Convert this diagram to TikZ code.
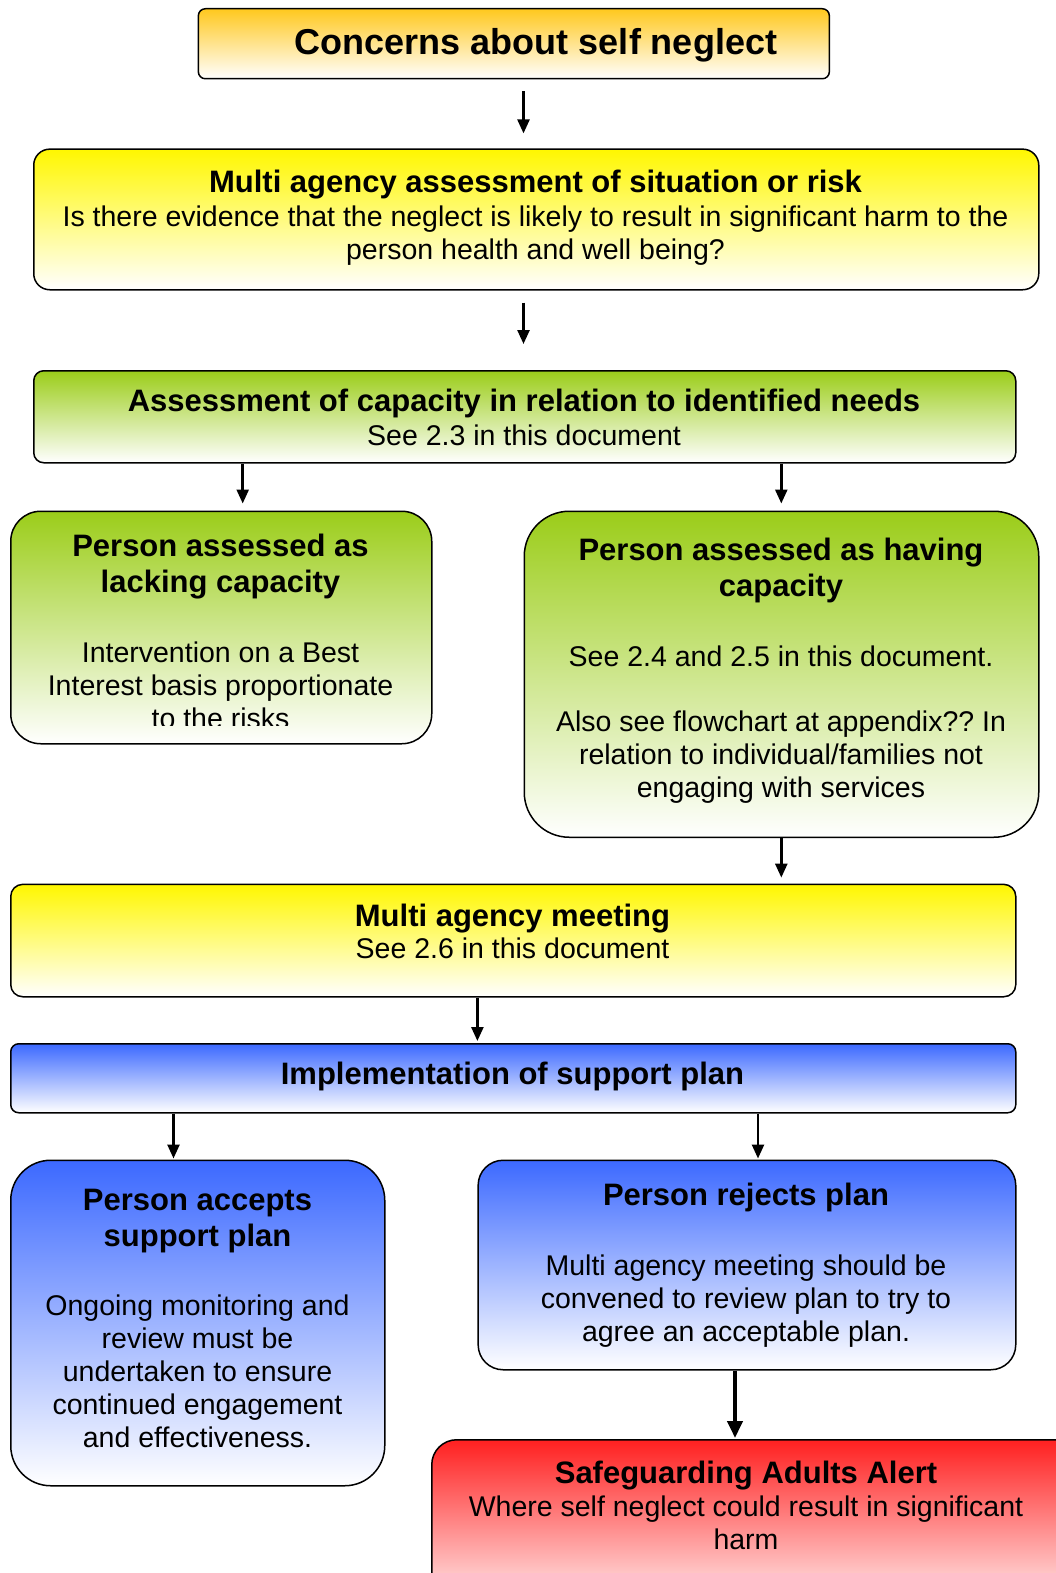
\documentclass[tikz,border=0pt]{standalone}
\usepackage{fontspec}
\setmainfont{Liberation Sans}
\usetikzlibrary{arrows.meta}
\definecolor{corange}{RGB}{255,200,30}
\definecolor{cyellow}{RGB}{255,247,0}
\definecolor{cgreen}{RGB}{155,205,25}
\definecolor{cblue}{RGB}{60,105,255}
\definecolor{cred}{RGB}{255,32,32}
\frenchspacing
\tikzset{
  box/.style={draw=black, line width=1.5pt, inner sep=0pt, anchor=north west},
  ttl/.style={font=\fontsize{31}{36}\selectfont\bfseries, align=center, inner sep=0pt},
  bdy/.style={font=\fontsize{28.5}{33}\selectfont, align=center, inner sep=0pt},
  arr/.style={line width=2.5pt, -{Triangle[length=14pt,width=12pt]}},
  bigarr/.style={line width=4pt, -{Triangle[length=17pt,width=15pt]}}
}
\begin{document}
\begin{tikzpicture}[x=1pt,y=-1pt]
\useasboundingbox (0,0) rectangle (1056,1573);
\clip (0,0) rectangle (1056,1573);
\fill[white] (0,0) rectangle (1056,1573);

% boxes
\node[box, rounded corners=7pt, top color=corange, bottom color=white,
  minimum width=631pt, minimum height=70pt] (concerns) at (197.6,8) {};
\node[box, rounded corners=16pt, top color=cyellow, bottom color=white,
  minimum width=1005pt, minimum height=140.6pt] (assess) at (33,148.4) {};
\node[box, rounded corners=10pt, top color=cgreen, bottom color=white,
  minimum width=982pt, minimum height=92pt] (capacity) at (33,370) {};
\node[box, rounded corners=30pt, top color=cgreen, bottom color=white,
  minimum width=421pt, minimum height=232.5pt] (lacking) at (10,510.5) {};
\node[box, rounded corners=45pt, top color=cgreen, bottom color=white,
  minimum width=514.5pt, minimum height=326pt] (having) at (523.5,510.5) {};
\node[box, rounded corners=12pt, top color=cyellow, bottom color=white,
  minimum width=1005pt, minimum height=112.4pt] (meeting) at (10,883.6) {};
\node[box, rounded corners=8pt, top color=cblue, bottom color=white,
  minimum width=1005pt, minimum height=69pt] (implement) at (10,1043) {};
\node[box, rounded corners=40pt, top color=cblue, bottom color=white,
  minimum width=374pt, minimum height=325.5pt] (accepts) at (10,1159.5) {};
\node[box, rounded corners=25pt, top color=cblue, bottom color=white,
  minimum width=537.6pt, minimum height=209.5pt] (rejects) at (477.4,1159.5) {};
\node[box, rounded corners=25pt, top color=cred, bottom color=white,
  minimum width=650pt, minimum height=180pt] (alert) at (431,1439) {};

% texts
\node[font=\fontsize{36}{42}\selectfont\bfseries, inner sep=0pt, anchor=base] (t1) at (536,55) {Concerns about self neglect};

\node[ttl, anchor=base] (t2a) at (535.5,192.5) {Multi agency assessment of situation or risk};
\node[bdy, anchor=north] (t2b) at (535.5,202.9) {\strut Is there evidence that the neglect is likely to result in significant harm to the\\person health and well being?};

\node[ttl, anchor=base] (t3a) at (524,411) {Assessment of capacity in relation to identified needs};
\node[bdy, anchor=base] (t3b) at (524,445) {See 2.3 in this document};

\node[ttl, anchor=north] (t4a) at (220.5,531.4) {\strut Person assessed as\\lacking capacity};
\begin{scope}
\clip (10,510) rectangle (431,725.5);
\node[bdy, anchor=north] (t4b) at (220.5,638.9) {\strut Intervention on a Best\\Interest basis proportionate\\to the risks};
\end{scope}

\node[ttl, anchor=north] (t5a) at (781,535.4) {\strut Person assessed as having\\capacity};
\node[bdy, anchor=north] (t5b) at (781,642.9) {\strut See 2.4 and 2.5 in this document.\\[32pt]Also see flowchart at appendix?? In\\relation to individual/families not\\engaging with services};

\node[ttl, anchor=base] (t6a) at (512.5,926.7) {Multi agency meeting};
\node[bdy, anchor=base] (t6b) at (512.5,958.8) {See 2.6 in this document};

\node[ttl, anchor=base] (t7) at (512.5,1084) {Implementation of support plan};

\node[ttl, anchor=north] (t8a) at (197.5,1185.4) {\strut Person accepts\\support plan};
\node[bdy, anchor=north] (t8b) at (197.5,1291.9) {\strut Ongoing monitoring and\\review must be\\undertaken to ensure\\continued engagement\\and effectiveness.};

\node[ttl, anchor=base] (t9a) at (746,1205.6) {Person rejects plan};
\node[bdy, anchor=north] (t9b) at (746,1252.5) {\strut Multi agency meeting should be\\convened to review plan to try to\\agree an acceptable plan.};

\node[ttl, anchor=base] (t10a) at (746,1483) {Safeguarding Adults Alert};
\node[bdy, anchor=north] (t10b) at (746,1493.4) {\strut Where self neglect could result in significant\\harm};

% connectors
\coordinate (x1) at (523.5,0);
\coordinate (x3) at (242.7,0);
\coordinate (x4) at (781.3,0);
\coordinate (x6) at (477.4,0);
\coordinate (x7) at (173.5,0);
\coordinate (x8) at (758,0);
\coordinate (x9) at (735,0);
\draw[arr, shorten <=12pt, shorten >=15pt] (x1 |- concerns.south) -- (x1 |- assess.north);
\draw[arr, shorten <=12pt, shorten >=26pt] (x1 |- assess.south) -- (x1 |- capacity.north);
\draw[arr, shorten >=7pt] (x3 |- capacity.south) -- (x3 |- lacking.north);
\draw[arr, shorten >=7pt] (x4 |- capacity.south) -- (x4 |- having.north);
\draw[arr, shorten >=6pt] (x4 |- having.south) -- (x4 |- meeting.north);
\draw[arr, shorten >=2pt] (x6 |- meeting.south) -- (x6 |- implement.north);
\draw[arr, shorten >=1pt] (x7 |- implement.south) -- (x7 |- accepts.north);
\draw[arr, shorten >=1pt] (x8 |- implement.south) -- (x8 |- rejects.north);
\draw[bigarr, shorten >=1pt] (x9 |- rejects.south) -- (x9 |- alert.north);
\end{tikzpicture}
\end{document}
